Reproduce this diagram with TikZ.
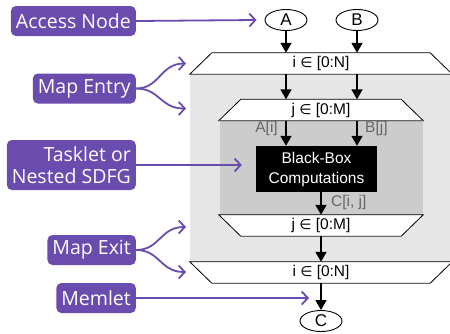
\documentclass[tikz,border=0pt]{standalone}
\usepackage{fontspec}
\setmainfont{Liberation Sans}
\newfontfamily\tagfont{Open Sans}
\newfontfamily\symfont{DejaVu Sans}
\usetikzlibrary{arrows.meta,shapes.geometric}
\pgfdeclarelayer{background}
\pgfsetlayers{background,main}
\definecolor{sdfgpurple}{HTML}{6A4BAE}
\definecolor{outerfill}{HTML}{E6E6E6}
\definecolor{innerfill}{HTML}{CCCCCC}
\definecolor{memletgray}{HTML}{666666}
\newcommand{\elem}{{\symfont\fontsize{14}{16}\selectfont ∈}}
\begin{document}
\begin{tikzpicture}[x=1pt,y=-1pt,
  access/.style={ellipse, draw, line width=0.9pt, minimum width=42pt, minimum height=21pt, inner sep=0pt, font=\fontsize{17}{18}\selectfont},
  mapband/.style={minimum height=21pt, inner sep=0pt, font=\fontsize{15.5}{18}\selectfont},
  bandline/.style={draw=black, line width=0.8pt, fill=white},
  bandshade/.style={draw=black!60, line width=1.4pt},
  flow/.style={line width=1.8pt, -{Triangle[length=10pt,width=11pt]}},
  memlbl/.style={text=memletgray, font=\fontsize{15.5}{18}\selectfont, inner sep=0pt},
  tag/.style={fill=sdfgpurple, text=white, rounded corners=5pt, font=\tagfont\fontsize{19.5}{22}\selectfont,
    inner xsep=5pt, inner ysep=0pt, minimum height=30pt, anchor=east, align=right},
  ptr/.style={draw=sdfgpurple, line width=1.8pt, -{Straight Barb[length=6pt,width=13pt,line width=1.8pt]}}
]
\useasboundingbox (0,0) rectangle (450,333);

% access nodes
\node[access] (A) at (286,20) {A};
\node[access] (B) at (357,20) {B};
\node[access] (C) at (321,321) {C};

% map entries and exits (labels of the trapezoidal bands)
\node[mapband, minimum width=262pt] (outin) at (321,63.5) {i \elem{} [0:N]};
\node[mapband, minimum width=204pt] (inin) at (321,110) {j \elem{} [0:M]};
\node[mapband, minimum width=204pt] (inout) at (321,225.5) {j \elem{} [0:M]};
\node[mapband, minimum width=262pt] (outout) at (321,272.5) {i \elem{} [0:N]};

% tasklet
\node[fill=black, text=white, minimum width=121pt, minimum height=46pt, inner sep=0pt,
  align=center, font=\fontsize{15.5}{20}\selectfont] (task) at (316.5,169) {Black-Box\\Computations};

\begin{pgfonlayer}{background}
  % map scopes
  \fill[outerfill] (outin.south west) rectangle (outout.north east);
  \fill[innerfill] ([xshift=1pt]inin.south west) rectangle (inout.north east);
  % entry bands
  \path[bandline] ([xshift=22pt]outin.north west) -- ([xshift=-22pt]outin.north east)
    -- (outin.south east) -- (outin.south west) -- cycle;
  \draw[bandshade] (outin.south west) -- (outin.south east);
  \path[bandline] ([xshift=22pt]inin.north west) -- ([xshift=-22pt]inin.north east)
    -- (inin.south east) -- (inin.south west) -- cycle;
  \draw[bandshade] (inin.south west) -- (inin.south east);
  % exit bands
  \path[bandline] (inout.north west) -- (inout.north east)
    -- ([xshift=-22pt]inout.south east) -- ([xshift=22pt]inout.south west) -- cycle;
  \draw[bandshade] ([xshift=22pt]inout.south west) -- ([xshift=-22pt]inout.south east);
  \path[bandline] (outout.north west) -- (outout.north east)
    -- ([xshift=-22pt]outout.south east) -- ([xshift=22pt]outout.south west) -- cycle;
  \draw[bandshade] ([xshift=22pt]outout.south west) -- ([xshift=-22pt]outout.south east);
\end{pgfonlayer}

% dataflow
\draw[flow] (A) -- (A |- outin.north);
\draw[flow] (B) -- (B |- outin.north);
\draw[flow] (A |- outin.south) -- (A |- inin.north);
\draw[flow] (B |- outin.south) -- (B |- inin.north);
\draw[flow] (A |- inin.south) -- (A |- task.north);
\draw[flow] (B |- inin.south) -- (B |- task.north);
\draw[flow] (C |- task.south) -- (C |- inout.north);
\draw[flow] (C |- inout.south) -- (C |- outout.north);
\draw[flow] (C |- outout.south) -- (C);

% memlet labels
\node[memlbl, anchor=east] (la) at (278,128.5) {A[i]};
\node[memlbl, anchor=west] (lb) at (365,128.5) {B[j]};
\node[memlbl, anchor=west] (lc) at (331,202) {C[i, j]};

% legend tags
\node[tag] (tacc) at (136,21) {Access Node};
\node[tag] (tment) at (136,88.5) {Map Entry};
\node[tag, minimum height=50pt] (ttask) at (136,165) {Tasklet or\\Nested SDFG};
\node[tag] (tmexit) at (136,250) {Map Exit};
\node[tag] (tmem) at (136,298) {Memlet};

\coordinate (pe1) at (186,63.5);
\coordinate (pe2) at (186,108.5);
\coordinate (px1) at (186,227);
\coordinate (px2) at (186,272);
\coordinate (pm) at (309,298);

\draw[ptr] (tacc.east) -- ([xshift=-8pt]A.west);
\draw[ptr] (tment.east) .. controls (160,88.5) and (160,63.5) .. (pe1);
\draw[ptr] (tment.east) .. controls (160,88.5) and (160,108.5) .. (pe2);
\draw[ptr] (ttask.east) -- ([xshift=-14pt]task.west |- ttask.east);
\draw[ptr] (tmexit.east) .. controls (160,250) and (160,227) .. (px1);
\draw[ptr] (tmexit.east) .. controls (160,250) and (160,272) .. (px2);
\draw[ptr] (tmem.east) -- (pm);
\end{tikzpicture}
\end{document}
